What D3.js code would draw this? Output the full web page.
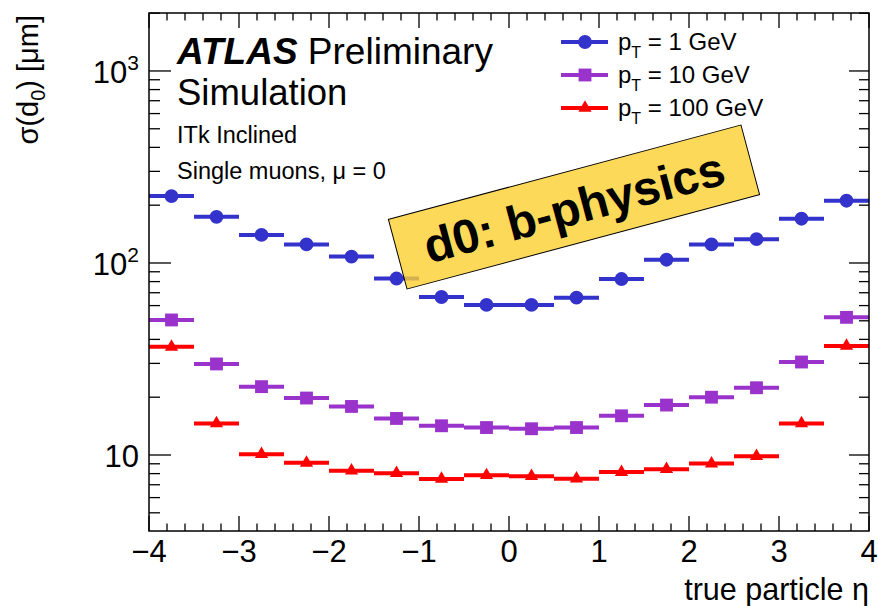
<!DOCTYPE html>
<html lang="en">
  <head>
    <meta charset="utf-8">
    <title>d0 resolution vs eta</title>
    <style>
      body { margin: 0; background: #fff; }
      svg { font-family: "Liberation Sans", Arial, sans-serif; }
    </style>
  </head>
  <body>
    <svg id="chart"></svg>
    <script src="https://d3js.org/d3.v7.min.js"></script>
    <script>
      // bin centres in eta, half bin width
      const etaCenters = [-3.75, -3.25, -2.75, -2.25, -1.75, -1.25, -0.75, -0.25,
                          0.25, 0.75, 1.25, 1.75, 2.25, 2.75, 3.25, 3.75];
      const binHalfWidth = 0.25;

      // sigma(d0) in um
      const pt1 = [223, 174, 140, 125, 108, 83, 66.5, 60.5, 60.5, 66, 82.5, 104, 125, 133, 170, 211];
      const pt10 = [50.5, 29.8, 22.7, 19.8, 17.9, 15.5, 14.2, 13.9, 13.7, 13.9, 16.0, 18.2, 20.0, 22.4, 30.5, 52.1];
      const pt100 = [36.6, 14.6, 10.1, 9.1, 8.28, 8.04, 7.5, 7.84, 7.75, 7.53, 8.15, 8.43, 9.02, 9.85, 14.6, 37.0];

      const seriesNames = ["1 GeV", "10 GeV", "100 GeV"];

      const xTicks = [-4, -3, -2, -1, 0, 1, 2, 3, 4];
      const xTickLabels = ["\u22124", "\u22123", "\u22122", "\u22121", "0", "1", "2", "3", "4"];
      const yTicks = [10, 100, 1000];
      const yTickLabels = [["10", ""], ["10", "2"], ["10", "3"]];

      const W = 878, H = 606;
      const pl = 149, pr = 869, pt = 13, pb = 531;

      const svg = d3.select("#chart").attr("width", W).attr("height", H);

      const x = d3.scaleLinear().domain([-4, 4]).range([pl, pr]);
      const y = d3.scaleLog().domain([4.02, 2004]).range([pb, pt]);

      const series = [
        {name: seriesNames[0], values: pt1, color: "#3333cc", shape: d3.symbolCircle, size: 150},
        {name: seriesNames[1], values: pt10, color: "#9933cc", shape: d3.symbolSquare, size: 165},
        {name: seriesNames[2], values: pt100, color: "#ff0000", shape: d3.symbolTriangle, size: 76}
      ];

      // ---- ticks ----
      const axes = svg.append("g").attr("stroke", "#000").attr("stroke-width", 1.3);
      const xMinor = d3.range(-4, 4.001, 0.2);
      xMinor.forEach(v => {
        const major = Math.abs(v - Math.round(v)) < 1e-6;
        const len = major ? 15 : 7.5;
        axes.append("line").attr("x1", x(v)).attr("x2", x(v)).attr("y1", pb).attr("y2", pb - len);
        axes.append("line").attr("x1", x(v)).attr("x2", x(v)).attr("y1", pt).attr("y2", pt + len);
      });

      const yMinor = [];
      [1, 10, 100, 1000].forEach(dec => {
        for (let k = 1; k < 10; k++) {
          const v = dec * k;
          if (v >= 4.02 && v <= 2004) yMinor.push(v);
        }
      });
      yMinor.forEach(v => {
        const major = yTicks.includes(v);
        axes.append("line").attr("x1", pl).attr("x2", pl + (major ? 22 : 11)).attr("y1", y(v)).attr("y2", y(v));
        axes.append("line").attr("x1", pr).attr("x2", pr - (major ? 20 : 10)).attr("y1", y(v)).attr("y2", y(v));
      });

      // ---- data ----
      series.forEach(s => {
        const g = svg.append("g");
        g.selectAll("line").data(s.values).enter().append("line")
          .attr("x1", (d, i) => x(etaCenters[i] - binHalfWidth))
          .attr("x2", (d, i) => x(etaCenters[i] + binHalfWidth))
          .attr("y1", d => y(d)).attr("y2", d => y(d))
          .attr("stroke", s.color).attr("stroke-width", 4);
        g.selectAll("path").data(s.values).enter().append("path")
          .attr("d", d3.symbol().type(s.shape).size(s.size))
          .attr("transform", (d, i) => "translate(" + x(etaCenters[i]) + "," + y(d) + ")")
          .attr("fill", s.color);
      });

      // ---- frame ----
      svg.append("rect").attr("x", pl).attr("y", pt)
        .attr("width", pr - pl).attr("height", pb - pt)
        .attr("fill", "none").attr("stroke", "#000").attr("stroke-width", 1.5);

      // ---- tick labels ----
      svg.append("g").selectAll("text").data(xTicks).enter().append("text")
        .attr("x", d => x(d)).attr("y", 562)
        .attr("text-anchor", "middle").attr("font-size", 31)
        .text((d, i) => xTickLabels[i]);

      const yl = svg.append("g").selectAll("text").data(yTicks).enter().append("text")
        .attr("x", 139).attr("y", d => y(d) + 12)
        .attr("text-anchor", "end").attr("font-size", 31);
      yl.append("tspan").text((d, i) => yTickLabels[i][0]);
      yl.append("tspan").attr("dy", -13).attr("font-size", 21).text((d, i) => yTickLabels[i][1]);

      // ---- axis titles ----
      svg.append("text").attr("x", pr).attr("y", 600)
        .attr("text-anchor", "end").attr("font-size", 30.5)
        .text("true particle \u03b7");

      const yt = svg.append("text").attr("transform", "translate(38,15) rotate(-90)")
        .attr("text-anchor", "end").attr("font-size", 29);
      yt.append("tspan").text("\u03c3(d");
      yt.append("tspan").attr("dy", 7).attr("font-size", 20).text("0");
      yt.append("tspan").attr("dy", -7).text(") [\u03bcm]");

      // ---- ATLAS label ----
      const atl = svg.append("text").attr("x", 177).attr("y", 64).attr("font-size", 37);
      atl.append("tspan").attr("font-weight", "bold").attr("font-style", "italic").text("ATLAS");
      atl.append("tspan").text(" Preliminary");
      svg.append("text").attr("x", 177).attr("y", 105).attr("font-size", 36.5).text("Simulation");
      svg.append("text").attr("x", 177).attr("y", 143).attr("font-size", 23.5).text("ITk Inclined");
      svg.append("text").attr("x", 177).attr("y", 179).attr("font-size", 23.5).text("Single muons, \u03bc = 0");

      // ---- legend ----
      const legY = [42, 75, 108];
      series.forEach((s, i) => {
        const g = svg.append("g").attr("transform", "translate(0," + legY[i] + ")");
        g.append("line").attr("x1", 561).attr("x2", 608).attr("y1", 0).attr("y2", 0)
          .attr("stroke", s.color).attr("stroke-width", 4);
        g.append("path").attr("d", d3.symbol().type(s.shape).size(s.size))
          .attr("transform", "translate(585,0)").attr("fill", s.color);
        const t = g.append("text").attr("x", 618).attr("y", 8).attr("font-size", 24);
        t.append("tspan").text("p");
        t.append("tspan").attr("dy", 8).attr("font-size", 16).text("T");
        t.append("tspan").attr("dy", -8).text(" = " + s.name);
      });

      // ---- yellow annotation ----
      const box = svg.append("g").attr("transform", "translate(574,207) rotate(-15)");
      box.append("rect").attr("x", -182.5).attr("y", -36).attr("width", 365).attr("height", 72)
        .attr("fill", "rgb(252,207,49)").attr("fill-opacity", 0.8)
        .attr("stroke", "#000").attr("stroke-width", 1);
      box.append("text").attr("x", 0).attr("y", 17).attr("text-anchor", "middle")
        .attr("font-size", 48).attr("font-weight", "bold").text("d0: b-physics");
    </script>
  </body>
</html>
